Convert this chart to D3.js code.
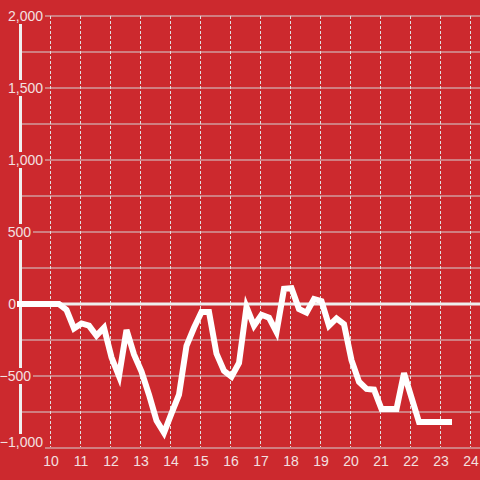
<!DOCTYPE html>
<html>
<head>
<meta charset="utf-8">
<script src="https://cdn.jsdelivr.net/npm/d3@7"></script>
<style>
  html, body { margin: 0; padding: 0; background: #cc292e; }
  svg { display: block; }
  text { font-family: "Liberation Sans", Arial, sans-serif; }
</style>
</head>
<body>
<svg id="chart" width="480" height="480"></svg>
<script>
const times = [9, 10.3, 10.55, 10.8, 11.05, 11.3, 11.55, 11.8, 12.05, 12.3, 12.55, 12.8, 13.05, 13.3, 13.55, 13.8,
  14.05, 14.3, 14.55, 14.8, 15.05, 15.3, 15.55, 15.8, 16.05, 16.3, 16.55, 16.8, 17.05, 17.3, 17.55, 17.8,
  18.05, 18.3, 18.55, 18.8, 19.05, 19.3, 19.55, 19.8, 20.05, 20.3, 20.55, 20.8, 21.05, 21.3, 21.55, 21.8,
  22.05, 22.3, 22.55, 22.8, 23.05, 23.3];
const values = [0, 0, -40, -170, -135, -150, -220, -165, -370, -500, -180, -350, -470, -630, -810, -895,
  -760, -630, -290, -165, -55, -55, -345, -465, -505, -410, -20, -150, -75, -95, -195, 105,
  110, -35, -60, 35, 20, -150, -100, -140, -390, -540, -590, -595, -730, -730, -730, -480,
  -650, -820, -820, -820, -820, -820];
const xTicks = [10, 11, 12, 13, 14, 15, 16, 17, 18, 19, 20, 21, 22, 23, 24];
const yTicks = [-1000, -500, 0, 500, 1000, 1500, 2000];
const yGrid = [-1000, -750, -500, -250, 0, 250, 500, 750, 1000, 1250, 1500, 1750, 2000];

const bg = "#cc292e";
const svg = d3.select("#chart");
const x = d3.scaleLinear().domain([9, 24.333]).range([20, 480]);
const y = d3.scaleLinear().domain([-1000, 2000]).range([448, 16]);

// horizontal grid
svg.append("g").selectAll("line").data(yGrid).join("line")
  .attr("x1", 20).attr("x2", 480)
  .attr("y1", d => y(d)).attr("y2", d => y(d))
  .attr("stroke", "#d4d4d4").attr("stroke-width", 1);

// vertical dashed grid
svg.append("g").selectAll("line").data(xTicks).join("line")
  .attr("x1", d => Math.round(x(d)) + 0.5).attr("x2", d => Math.round(x(d)) + 0.5)
  .attr("y1", 16).attr("y2", 447)
  .attr("stroke", "#e0e0e0").attr("stroke-width", 1)
  .attr("stroke-dasharray", "3,2");

// zero line
svg.append("line")
  .attr("x1", 20).attr("x2", 480)
  .attr("y1", y(0)).attr("y2", y(0))
  .attr("stroke", "#eeeeee").attr("stroke-width", 3);

// y axis line
svg.append("line")
  .attr("x1", 20.5).attr("x2", 20.5)
  .attr("y1", 16).attr("y2", 448)
  .attr("stroke", "#f0f0f0").attr("stroke-width", 3);

// y labels with background
const fmt = d3.format(",");
const labelRight = v => (Math.abs(v) >= 1000 ? 43 : (v === 0 ? 16 : 31));
const yl = svg.append("g").selectAll("g").data(yTicks).join("g")
  .attr("transform", d => `translate(0,${y(d) + (d === -1000 ? -6 : 0)})`);
yl.append("rect")
  .attr("x", 0).attr("y", -8).attr("width", d => labelRight(d) + 2).attr("height", 16)
  .attr("fill", bg);
yl.append("text")
  .attr("x", d => labelRight(d)).attr("dy", "0.35em")
  .attr("text-anchor", "end")
  .attr("font-size", 14)
  .attr("fill", "#f3e0e0")
  .text(d => fmt(d));

// x labels
svg.append("g").selectAll("text").data(xTicks).join("text")
  .attr("x", d => x(d) + 1)
  .attr("y", 461).attr("dy", "0.35em")
  .attr("text-anchor", "middle")
  .attr("font-size", 14)
  .attr("fill", "#f3e0e0")
  .text(d => d);

// data line
const line = d3.line().x((d, i) => x(times[i])).y(d => y(d));
svg.append("path")
  .attr("d", line(values))
  .attr("fill", "none")
  .attr("stroke", "#ffffff")
  .attr("stroke-width", 6)
  .attr("stroke-linecap", "square")
  .attr("stroke-linejoin", "miter");
</script>
</body>
</html>
